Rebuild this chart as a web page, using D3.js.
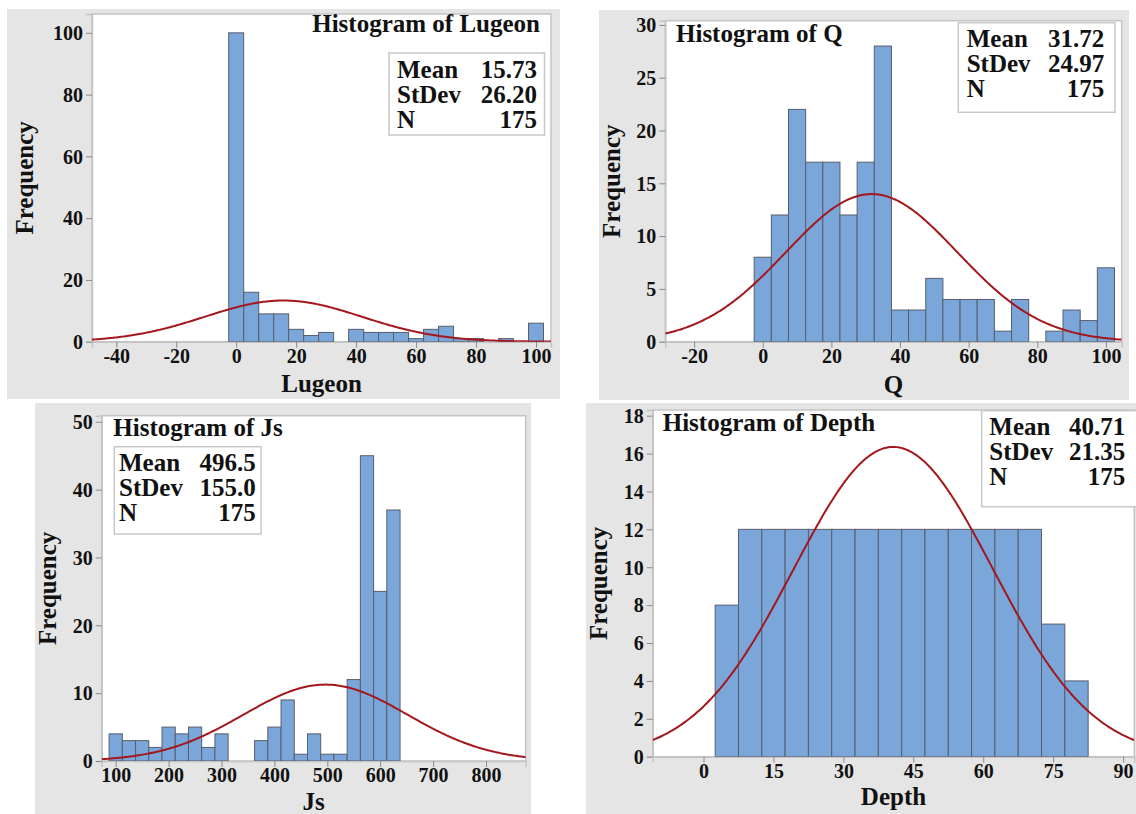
<!DOCTYPE html>
<html>
<head>
<meta charset="utf-8">
<script src="https://cdn.jsdelivr.net/npm/d3@7"></script>
<style>
  html, body { margin: 0; padding: 0; background: #ffffff; }
  svg text { font-family: "Liberation Serif", "Times New Roman", serif; font-weight: bold; fill: #111; }
</style>
</head>
<body>
<svg id="chart" width="1136" height="814"></svg>
<script>
// ---------------- DATA ----------------
const statLabels = ["Mean", "StDev", "N"];

const lugeonBins   = [0, 5, 10, 15, 20, 25, 30, 35, 40, 45, 50, 55, 60, 65, 70, 75, 80, 85, 90, 95, 100];
const lugeonCounts = [100, 16, 9, 9, 4, 2, 3, 0, 4, 3, 3, 3, 1, 4, 5, 1, 1, 0, 1, 0, 6];
const lugeonStats  = ["15.73", "26.20", "175"];
const lugeonXTicks = [-40, -20, 0, 20, 40, 60, 80, 100];
const lugeonYTicks = [0, 20, 40, 60, 80, 100];

const qBins   = [0, 5, 10, 15, 20, 25, 30, 35, 40, 45, 50, 55, 60, 65, 70, 75, 80, 85, 90, 95, 100];
const qCounts = [8, 12, 22, 17, 17, 12, 17, 28, 3, 3, 6, 4, 4, 4, 1, 4, 0, 1, 3, 2, 7];
const qStats  = ["31.72", "24.97", "175"];
const qXTicks = [-20, 0, 20, 40, 60, 80, 100];
const qYTicks = [0, 5, 10, 15, 20, 25, 30];

const jsBins   = [100, 125, 150, 175, 200, 225, 250, 275, 300, 325, 350, 375, 400, 425, 450, 475, 500, 525, 550, 575, 600, 625];
const jsCounts = [4, 3, 3, 2, 5, 4, 5, 2, 4, 0, 0, 3, 5, 9, 1, 4, 1, 1, 12, 45, 25, 37];
const jsStats  = ["496.5", "155.0", "175"];
const jsXTicks = [100, 200, 300, 400, 500, 600, 700, 800];
const jsYTicks = [0, 10, 20, 30, 40, 50];

const depthBins   = [5, 10, 15, 20, 25, 30, 35, 40, 45, 50, 55, 60, 65, 70, 75, 80];
const depthCounts = [8, 12, 12, 12, 12, 12, 12, 12, 12, 12, 12, 12, 12, 12, 7, 4];
const depthStats  = ["40.71", "21.35", "175"];
const depthXTicks = [0, 15, 30, 45, 60, 75, 90];
const depthYTicks = [0, 2, 4, 6, 8, 10, 12, 14, 16, 18];

// ---------------- STYLE ----------------
const PANEL_BG = "#e5e5e5";
const FRAME_STROKE = "#c4c4c4";
const BAR_FILL = "#7ba6da";
const BAR_STROKE = "#575e6b";
const CURVE = "#a3171d";
const TICK_COLOR = "#8a8a8a";

const svg = d3.select("#chart");
const plainFmt = d => String(d);

function drawPanel(cfg) {
  const g = svg.append("g");
  g.append("rect")
    .attr("x", cfg.panel[0]).attr("y", cfg.panel[1])
    .attr("width", cfg.panel[2] - cfg.panel[0]).attr("height", cfg.panel[3] - cfg.panel[1])
    .attr("fill", PANEL_BG);

  const [fx0, fy0, fx1, fy1] = cfg.frame;
  const x = d3.scaleLinear().domain(cfg.xDomain).range([fx0, fx1]);
  const y = d3.scaleLinear().domain(cfg.yDomain).range([fy1, fy0]);

  g.append("rect")
    .attr("x", fx0).attr("y", fy0).attr("width", fx1 - fx0).attr("height", fy1 - fy0)
    .attr("fill", "#ffffff").attr("stroke", FRAME_STROKE).attr("stroke-width", 1.5);

  const clipId = "clip-" + cfg.id;
  svg.append("clipPath").attr("id", clipId).append("rect")
    .attr("x", fx0).attr("y", fy0).attr("width", fx1 - fx0).attr("height", fy1 - fy0);

  const xAxis = d3.axisBottom(x).tickValues(cfg.xTicks).tickSize(6).tickPadding(2).tickFormat(plainFmt);
  const gx = g.append("g").attr("transform", `translate(0,${fy1})`).call(xAxis);
  gx.select(".domain").attr("stroke", FRAME_STROKE).attr("stroke-width", 1.5);
  gx.selectAll(".tick line").attr("stroke", TICK_COLOR);
  gx.selectAll(".tick text").attr("font-size", 20).attr("dy", null).attr("y", 21)
    .style("font-family", '"Liberation Serif", "Times New Roman", serif').style("font-weight", "bold").attr("fill", "#111");

  const yAxis = d3.axisLeft(y).tickValues(cfg.yTicks).tickSize(6).tickPadding(3).tickFormat(plainFmt);
  const gy = g.append("g").attr("transform", `translate(${fx0},0)`).call(yAxis);
  gy.select(".domain").attr("stroke", FRAME_STROKE).attr("stroke-width", 1.5);
  gy.selectAll(".tick line").attr("stroke", TICK_COLOR);
  gy.selectAll(".tick text").attr("font-size", 20).attr("x", -9).attr("dy", "0.34em")
    .style("font-family", '"Liberation Serif", "Times New Roman", serif').style("font-weight", "bold").attr("fill", "#111");

  const bars = cfg.bins.map((c, i) => ({ c, n: cfg.counts[i] })).filter(d => d.n > 0);
  g.append("g").attr("clip-path", `url(#${clipId})`)
    .selectAll("rect").data(bars).join("rect")
    .attr("x", d => x(d.c - cfg.binWidth / 2))
    .attr("y", d => y(d.n))
    .attr("width", d => x(d.c + cfg.binWidth / 2) - x(d.c - cfg.binWidth / 2))
    .attr("height", d => y(0) - y(d.n))
    .attr("fill", BAR_FILL).attr("stroke", BAR_STROKE).attr("stroke-width", 1);

  const mean = +cfg.stats[0], sd = +cfg.stats[1], n = +cfg.stats[2];
  const pdf = v => n * cfg.binWidth * Math.exp(-0.5 * ((v - mean) / sd) ** 2) / (sd * Math.sqrt(2 * Math.PI));
  const xs = d3.range(0, 301).map(i => cfg.xDomain[0] + (cfg.xDomain[1] - cfg.xDomain[0]) * i / 300);
  g.append("path").attr("clip-path", `url(#${clipId})`)
    .datum(xs)
    .attr("d", d3.line().x(v => x(v)).y(v => y(pdf(v))))
    .attr("fill", "none").attr("stroke", CURVE).attr("stroke-width", 2);

  const sb = cfg.statBox;
  g.append("rect").attr("x", sb.x0).attr("y", sb.y0).attr("width", sb.x1 - sb.x0).attr("height", sb.y1 - sb.y0)
    .attr("fill", "#ffffff").attr("stroke", "#c8c8c8").attr("stroke-width", 1.5);
  statLabels.forEach((lab, i) => {
    g.append("text").attr("x", sb.tl).attr("y", sb.base + i * 25).attr("font-size", 25).text(lab);
    g.append("text").attr("x", sb.tr).attr("y", sb.base + i * 25).attr("font-size", 25)
      .attr("text-anchor", "end").text(cfg.stats[i]);
  });

  g.append("text").attr("x", cfg.title.x).attr("y", cfg.title.y).attr("font-size", 25)
    .attr("text-anchor", cfg.title.anchor).text(cfg.title.text);

  g.append("text").attr("x", (fx0 + fx1) / 2).attr("y", cfg.xLabelY).attr("font-size", 25)
    .attr("text-anchor", "middle").text(cfg.xLabel);
  g.append("text").attr("transform", `translate(${cfg.yLabelX},${(fy0 + fy1) / 2}) rotate(-90)`)
    .attr("font-size", 25).attr("text-anchor", "middle").text("Frequency");
}

drawPanel({
  id: "lugeon", panel: [7, 9, 560, 399], frame: [92, 14, 551, 341.7],
  xDomain: [-48.1, 105], yDomain: [0, 106.1],
  bins: lugeonBins, counts: lugeonCounts, binWidth: 5, stats: lugeonStats,
  xTicks: lugeonXTicks, yTicks: lugeonYTicks,
  statBox: { x0: 389, y0: 53, x1: 544.5, y1: 135, tl: 397, tr: 537, base: 78 },
  title: { x: 540, y: 32, anchor: "end", text: "Histogram of Lugeon" },
  xLabel: "Lugeon", xLabelY: 392, yLabelX: 33
});

drawPanel({
  id: "q", panel: [599, 10, 1129, 400], frame: [665.3, 20.7, 1121.7, 341.7],
  xDomain: [-28.4, 104.6], yDomain: [0, 30.4],
  bins: qBins, counts: qCounts, binWidth: 5, stats: qStats,
  xTicks: qXTicks, yTicks: qYTicks,
  statBox: { x0: 958.3, y0: 22.7, x1: 1115, y1: 112.3, tl: 966.7, tr: 1104.3, base: 46.7 },
  title: { x: 676, y: 41.7, anchor: "start", text: "Histogram of Q" },
  xLabel: "Q", xLabelY: 393, yLabelX: 620
});

drawPanel({
  id: "js", panel: [35, 403, 531, 814], frame: [101.7, 415.7, 525.7, 761],
  xDomain: [73.5, 875], yDomain: [0, 50.9],
  bins: jsBins, counts: jsCounts, binWidth: 25, stats: jsStats,
  xTicks: jsXTicks, yTicks: jsYTicks,
  statBox: { x0: 114.3, y0: 446.7, x1: 261, y1: 534, tl: 119, tr: 255.7, base: 470.7 },
  title: { x: 113.3, y: 436, anchor: "start", text: "Histogram of Js" },
  xLabel: "Js", xLabelY: 810, yLabelX: 56
});

drawPanel({
  id: "depth", panel: [586, 403, 1136, 814], frame: [652.7, 410, 1134.3, 756.7],
  xDomain: [-10.9, 92.4], yDomain: [0, 18.3],
  bins: depthBins, counts: depthCounts, binWidth: 5, stats: depthStats,
  xTicks: depthXTicks, yTicks: depthYTicks,
  statBox: { x0: 981.7, y0: 410.7, x1: 1140, y1: 506.7, tl: 989.3, tr: 1125.3, base: 435 },
  title: { x: 662.7, y: 430.7, anchor: "start", text: "Histogram of Depth" },
  xLabel: "Depth", xLabelY: 805, yLabelX: 607
});
</script>
</body>
</html>
